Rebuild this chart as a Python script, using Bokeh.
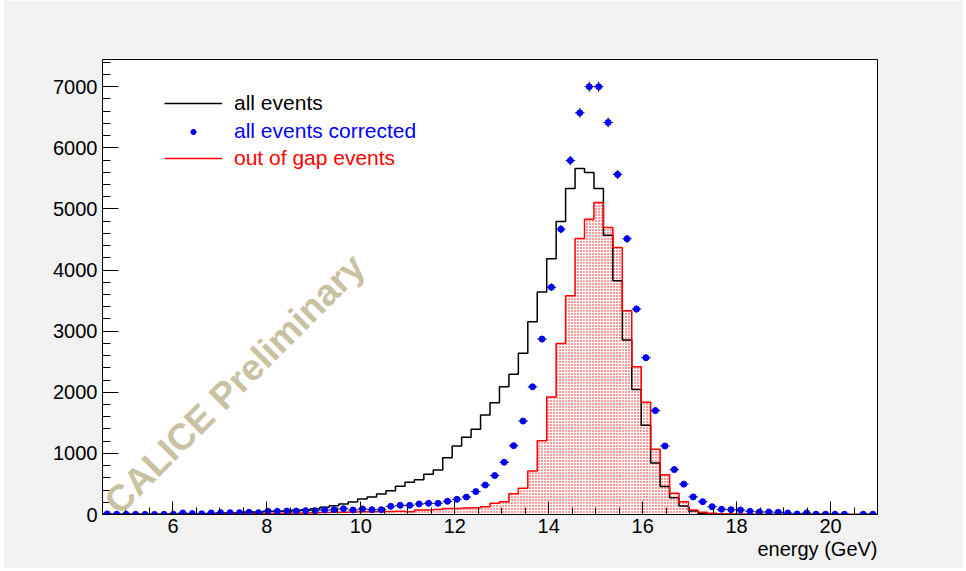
import numpy as np
from bokeh.plotting import figure
from bokeh.models import Legend, LegendItem, Label, Range1d, FixedTicker, ColumnDataSource, Title
from bokeh.embed import file_html
from bokeh.resources import INLINE

# ---- data: 82 bins from 4.5 to 21.0 GeV ----
x_lo, x_hi, n_bins = 4.5, 21.0, 82

all_events = [5, 3, 5, 5, 3, 5, 5, 5, 8, 8,
              8, 10, 10, 12, 15, 41, 41, 52, 52, 55,
              68, 79, 95, 117, 145, 172, 204, 253, 286, 335,
              387, 463, 526, 567, 657, 728, 929, 1120, 1262, 1393,
              1627, 1829, 2090, 2293, 2637, 3154, 3640, 4184, 4795, 5335,
              5662, 5597, 5335, 4571, 3824, 2854, 2047, 1462, 843, 460,
              275, 139, 57, 19, 8, 5, 3, 3, 2, 2,
              1, 1, 1, 0, 1, 0, 0, 0, 0, 0,
              0, 0]

out_of_gap = [3, 2, 3, 3, 2, 3, 3, 3, 5, 5,
              5, 6, 6, 8, 8, 20, 20, 20, 22, 22,
              25, 25, 28, 32, 35, 38, 42, 45, 45, 50,
              50, 55, 45, 72, 75, 80, 100, 100, 105, 110,
              128, 183, 210, 340, 428, 710, 1208, 1922, 2800, 3579,
              4517, 4833, 5106, 4697, 4370, 3334, 2418, 1835, 1066, 650,
              347, 210, 74, 36, 19, 8, 5, 3, 3, 2,
              2, 1, 1, 1, 0, 0, 0, 0, 0, 0,
              0, 0]

corrected = [10, 5, 5, 3, 2, 2, 3, 5, 25, 15,
             12, 25, 30, 30, 30, 36, 30, 52, 52, 57,
             57, 63, 63, 74, 79, 95, 74, 90, 79, 79,
             134, 150, 150, 172, 183, 183, 216, 248, 285, 375,
             482, 637, 855, 1126, 1529, 2090, 2870, 3718, 4668, 5792,
             6572, 7000, 7000, 6415, 5564, 4511, 3361, 2565, 1700, 1120,
             735, 497, 288, 210, 128, 85, 79, 74, 52, 41,
             41, 36, 25, 8, 25, 5, 5, 5, 5, float("nan"),
             5, 5]

x_ticks = [6, 8, 10, 12, 14, 16, 18, 20]
y_ticks = [0, 1000, 2000, 3000, 4000, 5000, 6000, 7000]
y_max = 7445

edges = np.linspace(x_lo, x_hi, n_bins + 1)
left = edges[:-1]
right = edges[1:]
centers = 0.5 * (left + right)
blk = np.array(all_events, dtype=float)
red = np.array(out_of_gap, dtype=float)
cor = np.array(corrected, dtype=float)
err = np.sqrt(cor)

FONT = "Liberation Sans"

p = figure(width=960, height=568, x_range=Range1d(x_lo, x_hi), y_range=Range1d(0, y_max),
           output_backend="svg", toolbar_location=None,
           min_border_left=99, min_border_right=86, min_border_top=59, min_border_bottom=54)
p.margin = (0, 0, 0, 3)
p.background_fill_color = "white"
p.border_fill_color = "#f2f2f2"
p.outline_line_color = "black"
p.outline_line_width = 1
p.xgrid.visible = False
p.ygrid.visible = False

# axes
minor_x = [v for v in np.arange(4.5, 21.01, 0.5) if v not in x_ticks]
p.xaxis.ticker = FixedTicker(ticks=x_ticks, minor_ticks=minor_x)
minor_y = [v for v in range(0, 7401, 200) if v not in y_ticks]
p.yaxis.ticker = FixedTicker(ticks=y_ticks, minor_ticks=minor_y)
for ax in (p.xaxis[0], p.yaxis[0]):
    ax.axis_line_color = "black"
    ax.major_tick_line_color = "black"
    ax.minor_tick_line_color = "black"
    ax.major_tick_out = 0
    ax.minor_tick_out = 0
    ax.major_label_text_font = FONT
    ax.major_label_text_font_size = "20px"
    ax.major_label_text_color = "black"
p.xaxis.major_tick_in = 13
p.xaxis.minor_tick_in = 7
p.yaxis.major_tick_in = 16
p.yaxis.minor_tick_in = 8
p.xaxis.major_label_standoff = 4
p.yaxis.major_label_standoff = 5

# x-axis title, right aligned under the axis
p.add_layout(Title(text="energy (GeV)", align="right", text_font=FONT,
                   text_font_size="20px", text_font_style="normal",
                   text_color="black", standoff=0), "below")

# watermark
p.add_layout(Label(x=4.68, y=110, text="CALICE Preliminary", angle=0.785,
                   text_font=FONT, text_font_style="bold", text_font_size="37px",
                   text_color="#c8c2a2", text_align="left", text_baseline="alphabetic"))

# red filled histogram
p.quad(left=left, right=right, bottom=0, top=red, fill_color="white", fill_alpha=1.0,
       line_alpha=0, hatch_pattern="dot", hatch_color="red", hatch_scale=3, hatch_weight=0.9)

step_x = np.append(edges, edges[-1])
blk_r = p.step(x=step_x, y=np.concatenate([blk, [blk[-1], 0]]), mode="after",
               line_color="black", line_width=1.5)
red_r = p.step(x=step_x, y=np.concatenate([red, [red[-1], 0]]), mode="after",
               line_color="red", line_width=1.5)

# blue points with error bars
src = ColumnDataSource(dict(x=centers, l=left, r=right, y=cor, lo=cor - err, hi=cor + err))
p.segment(x0="l", x1="r", y0="y", y1="y", source=src, line_color="black", line_width=1)
p.segment(x0="x", x1="x", y0="lo", y1="hi", source=src, line_color="black", line_width=1)
blue_r = p.scatter(x="x", y="y", source=src, marker="circle", size=6,
                   fill_color="blue", line_color="blue")

# legends (one per entry so each label takes its series colour)
entries = [("all events", blk_r, "black", 399, 24),
           ("all events corrected", blue_r, "blue", 371, 13),
           ("out of gap events", red_r, "red", 344, 24)]
for lab, rend, col, yy, gh in entries:
    lg = Legend(items=[LegendItem(label=lab, renderers=[rend])], location=(62, yy),
                border_line_color=None, background_fill_alpha=0,
                label_text_font=FONT, label_text_font_size="21px", label_text_color=col,
                glyph_width=58, glyph_height=gh, label_height=24, label_standoff=12,
                padding=0, margin=0, spacing=0)
    p.add_layout(lg)

open("out.html", "w").write(file_html(p, INLINE))
